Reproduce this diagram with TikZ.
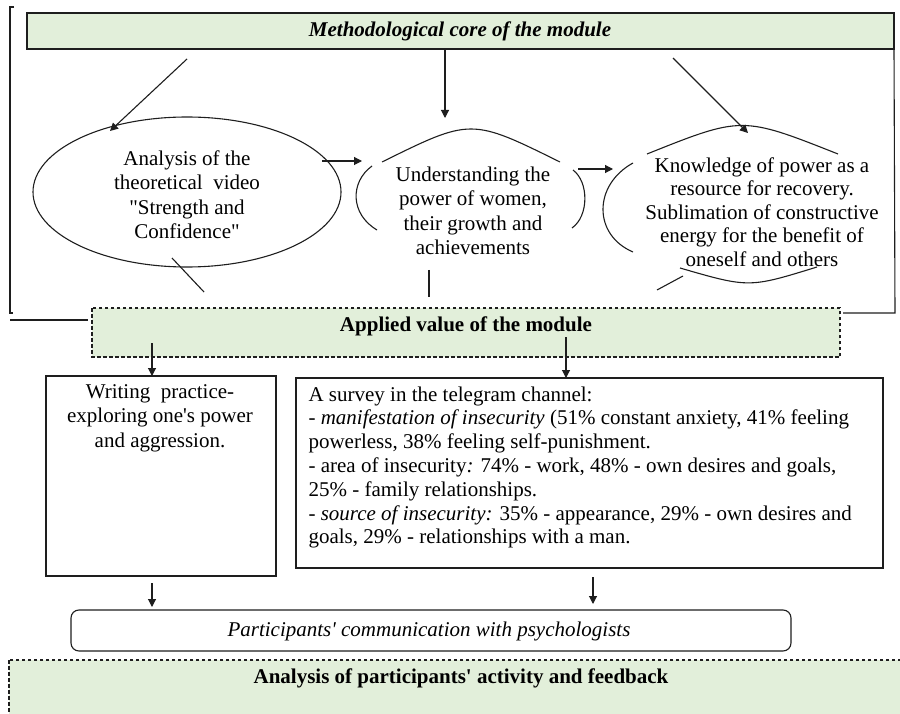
\documentclass[tikz,border=0pt]{standalone}
\usepackage{fontspec}
\setmainfont{Liberation Serif}[Ligatures=TeXOff]
\usetikzlibrary{arrows.meta}
\definecolor{panelgreen}{RGB}{226,239,218}
\definecolor{inkgray}{RGB}{30,30,30}
\begin{document}
\begin{tikzpicture}[x=1pt,y=-1pt,
  line width=1.1pt, draw=inkgray,
  every node/.style={inner sep=0pt, font=\fontsize{21}{24.5}\selectfont},
  arr/.style={-{Triangle[length=8pt,width=8pt]}},
  greenbar/.style={draw, fill=panelgreen},
  dashbar/.style={draw, fill=panelgreen, dash pattern=on 3.5pt off 2.5pt},
  plainbox/.style={draw, fill=white},
  label/.style={align=center}]
\useasboundingbox (0,0) rectangle (900,714);
\begin{scope}
\clip (0,0) rectangle (900,714);

% ---- header and frame ----
\draw[greenbar] (27,13) rectangle (894,49);
\node (core) at (460,31) {\bfseries\itshape Methodological core of the module};
\draw (14,7) -- (10,7) -- (10,313) -- (13,313);
\draw (894,49) -- (895,313) -- (843,313);

% ---- applied value bar ----
\draw[dashbar] (92,308) rectangle (840,357);
\node (applied) at (466,326) {\bfseries Applied value of the module};
\draw (10,320) -- (88,320);

% ---- first ellipse ----
\draw (187,192) ellipse [x radius=154, y radius=75];
\node[label, anchor=north] (e1) at (187,150) {Analysis of the\\theoretical\ \ video\\"Strength and\\Confidence"};
\draw (172,258) -- (204,292);

% ---- second ellipse (open arcs) ----
\draw (382,162) .. controls (471,118) .. (560,162);
\draw (372,166) .. controls (350,182) and (350,214) .. (377,230);
\draw (573,170) .. controls (589,182) and (589,216) .. (572,228);
\node[label, anchor=north] (e2) at (473,166) {Understanding the\\power of women,\\their growth and\\achievements};
\draw (429,270) -- (429,297);

% ---- third ellipse (open arcs) ----
\draw (647,154) .. controls (742,116) .. (838,154);
\draw (633,163) .. controls (593,185) and (593,235) .. (633,252);
\draw (680,268) .. controls (749,288) .. (817,267);
\draw (657,290) -- (683,276);
\node[label, anchor=north, font=\fontsize{21}{23.5}\selectfont] (e3) at (762,157) {Knowledge of power as a\\resource for recovery.\\Sublimation of constructive\\energy for the benefit of\\oneself and others};

% ---- arrows from the header ----
\coordinate (h1) at (187,59);  \coordinate (t1) at (110,131);
\coordinate (h2) at (445,49);  \coordinate (t2) at (445,118);
\coordinate (h3) at (673,58);  \coordinate (t3) at (748,133);
\draw[arr] (h1) -- (t1);
\draw[arr] (h2) -- (t2);
\draw[arr] (h3) -- (t3);

% ---- arrows between the ellipses ----
\coordinate (a1) at (322,161); \coordinate (b1) at (362,161);
\coordinate (a2) at (578,169); \coordinate (b2) at (613,169);
\draw[arr] (a1) -- (b1);
\draw[arr] (a2) -- (b2);

% ---- practice boxes ----
\draw[plainbox] (46,376) rectangle (276,576);
\node[label, anchor=north] (writing) at (160,384) {Writing\ \ practice-\\exploring one's power\\and aggression.};
\draw[plainbox] (296,378) rectangle (883,568);
\node[align=left, anchor=north west, font=\fontsize{21}{23.8}\selectfont] (survey) at (308,386)
 {A survey in the telegram channel:\\
  - \textit{manifestation of insecurity} (51\% constant anxiety, 41\% feeling\\
  powerless, 38\% feeling self-punishment.\\
  - area of insecurity\textit{:} 74\% - work, 48\% - own desires and goals,\\
  25\% - family relationships.\\
  - \textit{source of insecurity:} 35\% - appearance, 29\% - own desires and\\
  goals, 29\% - relationships with a man.};

\coordinate (s1) at (152,343); \coordinate (w1) at (152,376);
\coordinate (s2) at (566,337); \coordinate (w2) at (566,378);
\draw[arr] (s1) -- (w1);
\draw[arr] (s2) -- (w2);

% ---- communication with psychologists ----
\draw[plainbox, rounded corners=8pt] (71,610) rectangle (791,651);
\node (comm) at (429,631) {\itshape Participants' communication with psychologists};
\coordinate (p1) at (152,583); \coordinate (q1) at (152,607);
\coordinate (p2) at (593,577); \coordinate (q2) at (593,604);
\draw[arr] (p1) -- (q1);
\draw[arr] (p2) -- (q2);

% ---- feedback bar ----
\draw[dashbar] (9,660) rectangle (910,730);
\node (feedback) at (461,678) {\bfseries Analysis of participants' activity and feedback};
\end{scope}
\end{tikzpicture}
\end{document}
